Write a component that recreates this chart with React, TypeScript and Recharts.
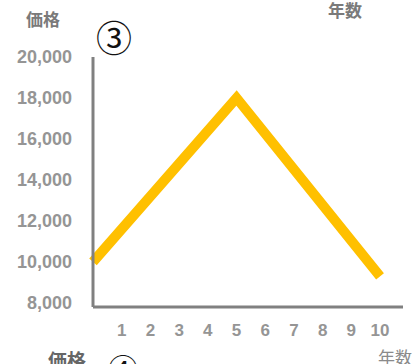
import { LineChart, Line, XAxis, YAxis } from "recharts";

const years = [0, 5, 10];
const prices = [10000, 18000, 9300];
const yearTicks = [1, 2, 3, 4, 5, 6, 7, 8, 9, 10];
const priceTicks = [8000, 10000, 12000, 14000, 16000, 18000, 20000];

const data = years.map((year, i) => ({ year, price: prices[i] }));

const font = '"Liberation Sans", Arial, "Noto Sans CJK JP", sans-serif';
const cjk = '"Noto Sans CJK JP", sans-serif';

const label = (left: number, top: number, size: number, color: string, weight: number | string, family = cjk) => ({
  position: "absolute" as const,
  left,
  top,
  fontSize: size,
  lineHeight: `${size}px`,
  color,
  fontWeight: weight,
  fontFamily: family,
  whiteSpace: "nowrap" as const,
});

export default function App() {
  return (
    <div style={{ position: "absolute", left: 0, top: 0, width: 419, height: 364, overflow: "hidden", background: "#fff" }}>
      <LineChart width={419} height={364} data={data} margin={{ top: 57, right: 16, bottom: 0, left: 0 }}>
        <XAxis
          dataKey="year"
          type="number"
          domain={[0, 10.8]}
          ticks={yearTicks}
          axisLine={{ stroke: "#808080", strokeWidth: 3 }}
          tickLine={false}
          tickMargin={11}
          height={57}
          tick={{ fill: "#959595", fontSize: 17, fontWeight: "bold", fontFamily: font }}
        />
        <YAxis
          type="number"
          domain={[7800, 20000]}
          ticks={priceTicks}
          width={93}
          axisLine={{ stroke: "#808080", strokeWidth: 3 }}
          tickLine={false}
          tickMargin={15}
          tickFormatter={(v: number) => v.toLocaleString("en-US")}
          tick={{ fill: "#959595", fontSize: 18, fontWeight: "bold", fontFamily: font }}
        />
        <Line
          dataKey="price"
          stroke="#FFC000"
          strokeWidth={10}
          dot={false}
          activeDot={false}
          isAnimationActive={false}
        />
      </LineChart>
      <div style={label(26, 10, 17, "#7a7a7a", "bold")}>価格</div>
      <div style={label(96, 18, 36, "#111", "normal")}>③</div>
      <div style={label(328, 1, 17, "#7a7a7a", "bold")}>年数</div>
      <div style={label(378, 348, 17, "#8a8a8a", "normal")}>年数</div>
      <div style={label(48, 350, 19, "#666", "bold")}>価格</div>
      <div style={label(108, 352, 30, "#111", "normal")}>④</div>
    </div>
  );
}
